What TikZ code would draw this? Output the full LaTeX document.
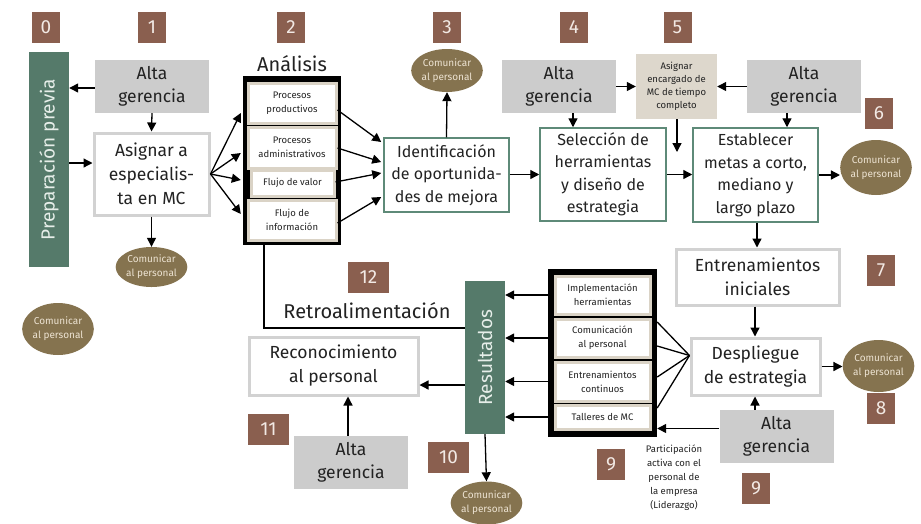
\documentclass[tikz,border=0pt]{standalone}
\usepackage{fontspec}
\setmainfont{Fira Sans}
\usetikzlibrary{arrows.meta,shapes.geometric,calc}
\definecolor{badgec}{HTML}{8A5F4F}
\definecolor{badget}{HTML}{F2E9E4}
\definecolor{barc}{HTML}{557A6A}
\definecolor{bart}{HTML}{E6EEE9}
\definecolor{greenb}{HTML}{5E8A78}
\definecolor{grayf}{HTML}{CCCCCC}
\definecolor{grayb}{HTML}{D2D2D2}
\definecolor{comc}{HTML}{85734F}
\definecolor{comt}{HTML}{EDE3D2}
\definecolor{beigef}{HTML}{DDD7CC}
\definecolor{beigeb}{HTML}{DAD3C6}
\definecolor{txt}{HTML}{222222}
\begin{document}
\begin{tikzpicture}[x=1pt,y=-1pt,
  badgeA/.style={fill=badgec,text=badget,font=\fontsize{19}{19}\selectfont,minimum width=28pt,minimum height=31pt,inner sep=0},
  badgeB/.style={badgeA,minimum width=41pt},
  alta/.style={fill=grayf,text=txt,minimum width=114pt,minimum height=53pt,inner sep=0,align=center,font=\fontsize{17.5}{23}\selectfont},
  gbox/.style={draw=greenb,line width=1.5pt,fill=white,text=txt,inner sep=0,align=center,font=\fontsize{16}{22.5}\selectfont},
  wbox/.style={draw=grayb,line width=3pt,fill=white,text=txt,inner sep=0,align=center,font=\fontsize{17.5}{24}\selectfont},
  combub/.style={ellipse,fill=comc,text=comt,inner sep=0,align=center,font=\fontsize{10}{14}\selectfont},
  subbox/.style={draw=beigeb,line width=3pt,fill=white,text=txt,inner sep=0,align=center,font=\fontsize{9.5}{14}\selectfont},
  blk/.style={fill=black,inner sep=0},
  vbar/.style={fill=barc,text=bart,inner sep=0,font=\fontsize{19}{19}\selectfont},
  arr/.style={-{Triangle[length=9pt,width=9pt]},line width=1.3pt},
  ln/.style={line width=1.3pt}]
\useasboundingbox (0,0) rectangle (921,523);

% badges
\node[badgeA] (b0) at (46,27.5) {0};
\node[badgeA] (b1) at (152,27.5) {1};
\node[badgeA] (b2) at (291,27.5) {2};
\node[badgeA] (b3) at (447,27.5) {3};
\node[badgeA] (b4) at (574,27.5) {4};
\node[badgeA] (b5) at (677.5,27.5) {5};
\node[badgeA] (b6) at (879,113) {6};
\node[badgeA] (b7) at (881,270) {7};
\node[badgeA] (b8) at (881,408) {8};
\node[badgeA] (b9a) at (611,464) {9};
\node[badgeA] (b9b) at (756,488) {9};
\node[badgeB] (b10) at (448.5,457) {10};
\node[badgeB] (b11) at (268.5,429.5) {11};
\node[badgeB] (b12) at (368.5,277.5) {12};

% step 0-1
\node[vbar,minimum width=40pt,minimum height=215pt] (prep) at (49,159.5) {};
\node[rotate=90,text=bart,font=\fontsize{19}{19}\selectfont] (preptxt) at (prep.center) {Preparación previa};
\node[alta] (alta1) at (152,86.5) {Alta\\gerencia};
\node[wbox,minimum width=115pt,minimum height=82pt] (asig) at (151.5,174) {Asignar a\\especialis-\\ta en MC};
\node[combub,minimum width=67pt,minimum height=40pt] (com1) at (151.5,267) {Comunicar\\al personal};
\node[combub,minimum width=66pt,minimum height=52pt] (com0) at (58,329) {Comunicar\\al personal};

% Analisis
\node[font=\fontsize{20}{20}\selectfont,text=txt] (antit) at (292,64) {Análisis};
\node[blk,minimum width=98pt,minimum height=169pt] (fA) at (292,160.5) {};
\node[subbox,minimum width=88pt,minimum height=40pt] (pp) at (292,103) {Procesos\\productivos};
\node[subbox,minimum width=88pt,minimum height=41pt] (pa) at (292,147.5) {Procesos\\administrativos};
\node[subbox,minimum width=83pt,minimum height=26pt] (fv) at (292.5,183) {Flujo de valor};
\node[subbox,minimum width=88pt,minimum height=40pt] (fi) at (292,220) {Flujo de\\información};

% 3
\node[gbox,minimum width=125pt,minimum height=74pt] (ident) at (446.5,175) {Identificación\\de oportunida-\\des de mejora};
\node[combub,minimum width=68pt,minimum height=43pt] (com3) at (447,70.5) {Comunicar\\al personal};

% 4-6
\node[alta] (alta4) at (559,86.5) {Alta\\gerencia};
\node[fill=beigef,text=txt,minimum width=81pt,minimum height=65pt,inner sep=0,align=center,font=\fontsize{9.5}{13}\selectfont] (enc) at (676.5,86.5) {Asignar\\encargado de\\MC de tiempo\\completo};
\node[gbox,minimum width=126pt,minimum height=93pt] (sel) at (603,174.5) {Selección de\\herramientas\\y diseño de\\estrategia};
\node[gbox,minimum width=125pt,minimum height=94pt] (est) at (755.5,175) {Establecer\\metas a corto,\\mediano y\\largo plazo};
\node[alta] (alta6) at (804,86.5) {Alta\\gerencia};
\node[combub,minimum width=62pt,minimum height=55pt] (com6) at (876,167.5) {Comunicar\\al personal};

% 7-9
\node[wbox,minimum width=163pt,minimum height=56pt] (entr) at (757.5,277) {Entrenamientos\\iniciales};
\node[wbox,minimum width=129pt,minimum height=57pt] (desp) at (755.5,366.5) {Despliegue\\de estrategia};
\node[combub,minimum width=67pt,minimum height=52pt] (com8) at (878.5,366) {Comunicar\\al personal};
\node[alta] (alta9) at (776.5,436.5) {Alta\\gerencia};
\node[text=txt,align=center,font=\fontsize{9.5}{14}\selectfont] (part) at (674,478) {Participación\\activa con el\\personal de\\la empresa\\(Liderazgo)};

\node[blk,minimum width=109pt,minimum height=168pt] (f2) at (602.5,353) {};
\node[subbox,minimum width=95pt,minimum height=38pt] (ih) at (602.5,295) {Implementación\\herramientas};
\node[subbox,minimum width=95pt,minimum height=38pt] (cp) at (602.5,338) {Comunicación\\al personal};
\node[subbox,minimum width=95pt,minimum height=39pt] (ec) at (602.5,381.5) {Entrenamientos\\continuos};
\node[subbox,minimum width=95pt,minimum height=24pt] (tm) at (602.5,417) {Talleres de MC};

% 10-12
\node[vbar,minimum width=40pt,minimum height=153pt] (res) at (485,357.5) {};
\node[rotate=90,text=bart,font=\fontsize{19}{19}\selectfont] (restxt) at (res.center) {Resultados};
\node[wbox,minimum width=169pt,minimum height=58pt] (rec) at (333.5,366) {Reconocimiento\\al personal};
\node[alta] (alta11) at (351,462.5) {Alta\\gerencia};
\node[combub,minimum width=67pt,minimum height=43pt] (com10) at (486.5,503) {Comunicar\\al personal};
\node[text=txt,font=\fontsize{20}{20}\selectfont] (retro) at (367,311) {Retroalimentación};

% coordinates
\coordinate (c0) at (0,88);
\coordinate (c1) at (0,163);
\coordinate (rs) at (264,245);
\coordinate (re) at (465,328);
\coordinate (encend) at (677,152);
\coordinate (a9w) at ($(alta9.west)+(0,-8)$);

% arrows 0-2
\draw[arr] (alta1.west |- c0) -- (prep.east |- c0);
\draw[arr] (prep.east |- c1) -- (asig.west |- c1);
\draw[arr] (alta1.south) -- (asig.north);
\draw[arr] (asig.south) -- (com1.north);
\draw[arr] (asig.east) -- ($(fA.west)+(-2,-47.5)$);
\draw[arr] (asig.east) -- ($(fA.west)+(-2,-7.5)$);
\draw[arr] (asig.east) -- ($(fA.west)+(-2,19.5)$);
\draw[arr] (asig.east) -- ($(fA.west)+(-2,53.5)$);
% 2-3
\draw[arr] ($(pp.east)+(0,7)$) -- ($(ident.west)+(-2,-33)$);
\draw[arr] ($(pa.east)+(0,0.5)$) -- ($(ident.west)+(-2,-13)$);
\draw[arr] ($(fv.east)+(0,-1)$) -- ($(ident.west)+(-2,-2)$);
\draw[arr] ($(fi.east)+(0,3)$) -- ($(ident.west)+(-2,22)$);
\draw[arr] (ident.north) -- (com3.south);
\draw[arr] (ident.east |- sel.west) -- (sel.west);
% 4-6
\draw[arr] (alta4.east) -- (enc.west);
\draw[arr] (alta6.west) -- (enc.east);
\draw[arr] (alta4.south -| 573,0) -- (sel.north -| 573,0);
\draw[arr] (enc.south -| encend) -- (encend);
\draw[arr] (sel.east) -- (est.west |- sel.east);
\draw[arr] (alta6.south -| 787,0) -- (est.north -| 787,0);
\draw[arr] (est.east) -- (com6.west |- est.east);
% 7-9
\draw[arr] (est.south -| 757,0) -- (entr.north -| 757,0);
\draw[arr] (entr.south -| 755,0) -- (desp.north -| 755,0);
\draw[arr] (desp.east) -- (com8.west |- desp.east);
\draw[arr] (alta9.north -| 755,0) -- (desp.south -| 755,0);
\draw[arr] (a9w) -- (a9w -| f2.east);
\foreach \dy in {-31,-7,24,55} {
  \draw[ln] ($(desp.west)+(0,-11)$) -- ($(f2.east)+(0,\dy)$);
}
% 10-12
\draw[arr] (f2.west |- ih) -- (res.east |- ih);
\draw[arr] (f2.west |- cp) -- (res.east |- cp);
\draw[arr] (f2.west |- ec) -- (res.east |- ec);
\draw[arr] (f2.west |- tm) -- (res.east |- tm);
\draw[arr] (res.west |- 0,385) -- (rec.east |- 0,385);
\draw[arr] (alta11.north -| 348,0) -- (rec.south -| 348,0);
\draw[arr] (res.south) -- (com10.north);
\draw[ln] (rs) |- (re);
\end{tikzpicture}
\end{document}
